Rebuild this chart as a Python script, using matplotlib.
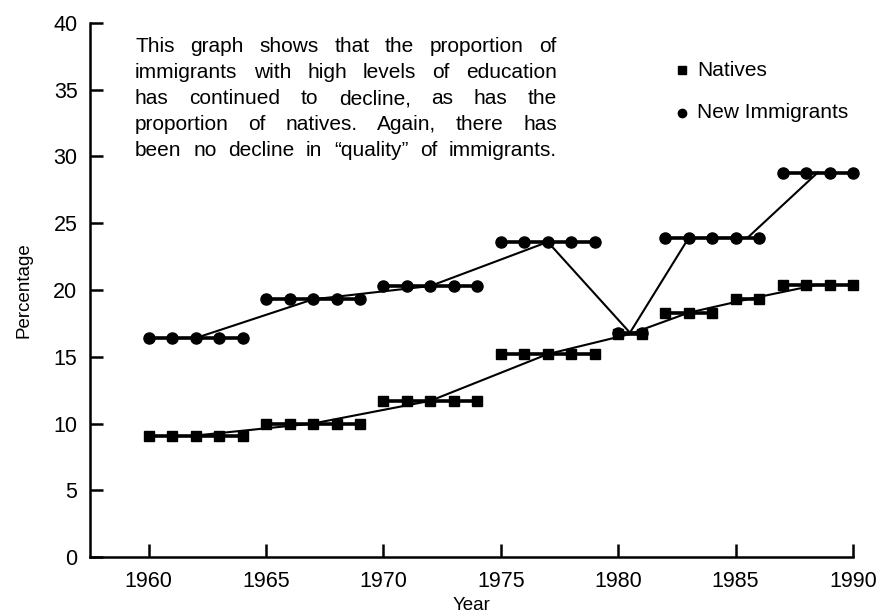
import matplotlib
matplotlib.use("Agg")
import matplotlib.pyplot as plt
import numpy as np

# ---- data ----
native_start = [1960, 1965, 1970, 1975, 1980, 1982, 1985, 1987]
native_end = [1964, 1969, 1974, 1979, 1981, 1984, 1986, 1990]
native_values = [9.1, 10.0, 11.7, 15.2, 16.7, 18.3, 19.3, 20.4]

immig_start = [1960, 1965, 1970, 1975, 1980, 1982, 1987]
immig_end = [1964, 1969, 1974, 1979, 1981, 1986, 1990]
immig_values = [16.4, 19.3, 20.3, 23.6, 16.8, 23.9, 28.8]

trend_years = [1962, 1967, 1972, 1977, 1980.5, 1983, 1985.5, 1988.5]
native_trend = [9.1, 10.0, 11.7, 15.2, 16.7, 18.3, 19.3, 20.4]
immig_trend = [16.4, 19.3, 20.3, 23.6, 16.8, 23.9, 23.9, 28.8]

x_ticks = [1960, 1965, 1970, 1975, 1980, 1985, 1990]
y_ticks = [0, 5, 10, 15, 20, 25, 30, 35, 40]

note_lines = [
    "This graph shows that the proportion of",
    "immigrants with high levels of education",
    "has continued to decline, as has the",
    "proportion of natives. Again, there has",
    "been no decline in \u201cquality\u201d of immigrants.",
]

plt.rcParams['font.family'] = ['Liberation Sans', 'DejaVu Sans']

fig = plt.figure(figsize=(8.83, 6.16), dpi=100)
ax = fig.add_axes([90 / 883, 1 - 557 / 616, (853 - 90) / 883, (557 - 23) / 616])

# trend lines (thin)
ax.plot(trend_years, immig_trend, color='black', lw=1.5, clip_on=False, zorder=2)
ax.plot(trend_years, native_trend, color='black', lw=1.5, clip_on=False, zorder=2)

# grouped steps (thick with markers)
for s, e, v in zip(immig_start, immig_end, immig_values):
    xs = np.arange(s, e + 1)
    ax.plot(xs, [v] * len(xs), color='black', lw=2.6, marker='o', ms=8,
            clip_on=False, zorder=3)
for s, e, v in zip(native_start, native_end, native_values):
    xs = np.arange(s, e + 1)
    ax.plot(xs, [v] * len(xs), color='black', lw=2.6, marker='s', ms=7.5,
            clip_on=False, zorder=3)

ax.set_xlim(1957.5, 1990)
ax.set_ylim(0, 40)
ax.set_xticks(x_ticks)
ax.set_yticks(y_ticks)
ax.tick_params(direction='in', length=9.5, width=1.8, labelsize=15.5)
ax.tick_params(axis='x', pad=10)
ax.tick_params(axis='y', pad=9)
for side in ['top', 'right']:
    ax.spines[side].set_visible(False)
for side in ['left', 'bottom']:
    ax.spines[side].set_linewidth(1.8)

ax.set_xlabel('Year', fontsize=13.5, labelpad=4)
ax.set_ylabel('Percentage', fontsize=13.5, labelpad=15)

# legend
fig_w, fig_h = 883, 616
def fx(px):
    return px / fig_w
def fy(py):
    return 1 - py / fig_h

fig.lines.append(plt.Line2D([fx(682)], [fy(70)], marker='s', ms=6, color='black',
                            transform=fig.transFigure, linestyle='none'))
fig.lines.append(plt.Line2D([fx(682)], [fy(113)], marker='o', ms=6, color='black',
                            transform=fig.transFigure, linestyle='none'))
fig.text(fx(697), fy(70), 'Natives', fontsize=15, va='center', ha='left')
fig.text(fx(697), fy(113), 'New Immigrants', fontsize=15, va='center', ha='left')

# justified note text
fig.canvas.draw()
renderer = fig.canvas.get_renderer()
left_px, right_px = 135, 557
line_y = [47, 73, 99, 125, 151]
note_fs = 15
for line, ly in zip(note_lines, line_y):
    words = line.split(' ')
    texts = [fig.text(0, fy(ly), w, fontsize=note_fs, va='center', ha='left') for w in words]
    widths = [t.get_window_extent(renderer).width for t in texts]
    gap = (right_px - left_px - sum(widths)) / (len(words) - 1)
    x = left_px
    for t, w in zip(texts, widths):
        t.set_x(fx(x))
        x += w + gap

fig.savefig('out.png', dpi=100)
